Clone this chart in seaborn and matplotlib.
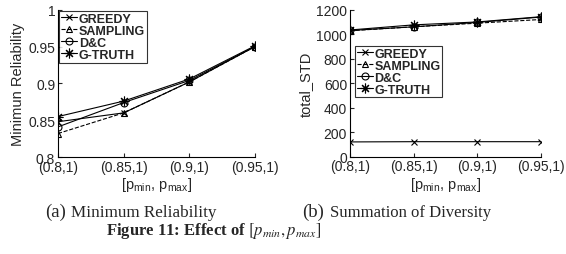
import pandas as pd
import matplotlib
matplotlib.use('Agg')
import matplotlib.pyplot as plt
import seaborn as sns

# data
ranges = ['(0.8,1)', '(0.85,1)', '(0.9,1)', '(0.95,1)']
methods = ['GREEDY', 'SAMPLING', 'D&C', 'G-TRUTH']

min_rel = {
    'GREEDY':   [0.848, 0.860, 0.902, 0.950],
    'SAMPLING': [0.832, 0.860, 0.902, 0.950],
    'D&C':      [0.841, 0.874, 0.904, 0.950],
    'G-TRUTH':  [0.855, 0.876, 0.906, 0.951],
}
total_std = {
    'GREEDY':   [120, 122, 122, 122],
    'SAMPLING': [1030, 1062, 1092, 1122],
    'D&C':      [1032, 1062, 1098, 1142],
    'G-TRUTH':  [1036, 1078, 1102, 1145],
}

markers = {'GREEDY': 'x', 'SAMPLING': '^', 'D&C': 'o', 'G-TRUTH': (8, 2, 0)}
msize = {'GREEDY': 5, 'SAMPLING': 5, 'D&C': 5, 'G-TRUTH': 7}
styles = {'GREEDY': '-', 'SAMPLING': '--', 'D&C': '-', 'G-TRUTH': '-'}

sns.set_style('ticks')
plt.rcParams['font.family'] = ['Liberation Sans', 'DejaVu Sans']
plt.rcParams['mathtext.fontset'] = 'stix'

txt = '#262626'
fig = plt.figure(figsize=(5.66, 2.55), dpi=100)
ax1 = fig.add_axes([0.1025, 0.380, 0.348, 0.578])
ax2 = fig.add_axes([0.618, 0.382, 0.338, 0.575])


def draw(ax, data):
    for m in methods:
        df = pd.DataFrame({'range': ranges, 'val': data[m]})
        sns.lineplot(data=df, x='range', y='val', ax=ax, color='black',
                     linestyle=styles[m], marker=markers[m], markersize=msize[m],
                     markerfacecolor='none', markeredgecolor='black',
                     markeredgewidth=0.8, linewidth=0.8, label=m)
    ax.set_xlim(0, len(ranges) - 1)
    ax.set_xticks(range(len(ranges)))
    ax.set_xticklabels(ranges)
    ax.set_xlabel('[p$_{\\mathregular{min}}$, p$_{\\mathregular{max}}$]',
                  fontsize=10.5, color=txt, labelpad=1)
    ax.tick_params(direction='in', length=3, labelsize=10, colors=txt, pad=2)
    sns.despine(ax=ax)
    for s in ['left', 'bottom']:
        ax.spines[s].set_linewidth(0.8)
        ax.spines[s].set_color('black')


def legend(ax, anchor):
    leg = ax.legend(loc='upper left', bbox_to_anchor=anchor, frameon=True,
                    fancybox=False, edgecolor='black', handlelength=1.3,
                    handletextpad=0.1, borderpad=0.15, labelspacing=0.0,
                    borderaxespad=0.1, prop={'weight': 'bold', 'size': 9})
    leg.get_frame().set_linewidth(0.8)


draw(ax1, min_rel)
ax1.set_ylim(0.8, 1.0)
ax1.set_yticks([0.8, 0.85, 0.9, 0.95, 1.0])
ax1.set_yticklabels(['0.8', '0.85', '0.9', '0.95', '1'])
ax1.set_ylabel('Minimun Reliability', fontsize=10.5, color=txt, labelpad=2)
legend(ax1, (0.0, 1.0))

draw(ax2, total_std)
ax2.set_ylim(0, 1200)
ax2.set_yticks(range(0, 1201, 200))
ax2.set_ylabel('total_STD', fontsize=10.5, color=txt, labelpad=2)
legend(ax2, (0.02, 0.765))

serif = ['Liberation Serif', 'DejaVu Serif']
fig.text(45 / 566, 0.168, '(a)', fontsize=13.5, family=serif, ha='left', va='center')
fig.text(71 / 566, 0.165, 'Minimum Reliability', fontsize=12.3, family=serif, ha='left', va='center')
fig.text(302 / 566, 0.168, '(b)', fontsize=13.5, family=serif, ha='left', va='center')
fig.text(330 / 566, 0.165, 'Summation of Diversity', fontsize=12, family=serif, ha='left', va='center')
fig.text(214 / 566, 0.095, 'Figure 11: Effect of $[p_{min}, p_{max}]$', fontsize=12,
         family=serif, weight='bold', ha='center', va='center')

fig.savefig('out.png', dpi=100)
